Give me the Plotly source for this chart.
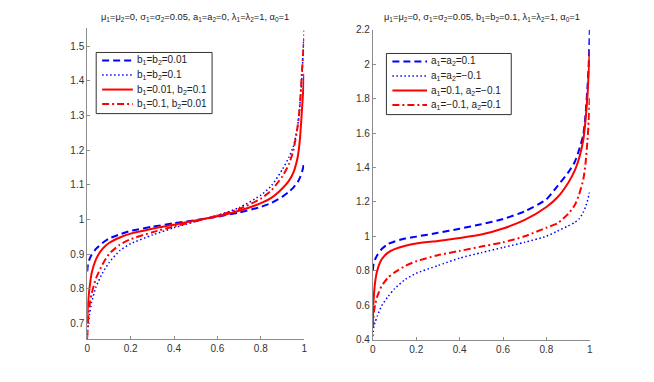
import plotly.graph_objects as go

# ── data ──────────────────────────────────────────────────────────────────────
X = [0, 0.002, 0.005, 0.01, 0.02, 0.04, 0.07, 0.1, 0.15, 0.2, 0.3, 0.4, 0.5,
     0.6, 0.7, 0.8, 0.85, 0.9, 0.93, 0.95, 0.97, 0.98, 0.99, 0.995, 0.998, 1]

# left panel (a1=a2=0, varying b)
L_b001 = [0.85, 0.865, 0.875, 0.885, 0.898, 0.915, 0.932, 0.945, 0.957, 0.967, 0.979, 0.989, 0.998,
          1.008, 1.02, 1.036, 1.048, 1.066, 1.08, 1.092, 1.108, 1.12, 1.138, 1.15, 1.16, 1.165]
L_b01 = [0.655, 0.68, 0.70, 0.725, 0.76, 0.805, 0.845, 0.875, 0.91, 0.93, 0.955, 0.976, 0.994,
         1.012, 1.034, 1.07, 1.098, 1.145, 1.18, 1.21, 1.27, 1.33, 1.42, 1.48, 1.52, 1.545]
L_b1_001_b2_01 = [0.70, 0.74, 0.77, 0.80, 0.845, 0.885, 0.915, 0.932, 0.948, 0.959, 0.973, 0.985, 0.997,
                  1.009, 1.025, 1.047, 1.063, 1.09, 1.112, 1.135, 1.18, 1.23, 1.32, 1.37, 1.40, 1.42]
L_b1_01_b2_001 = [0.66, 0.69, 0.72, 0.75, 0.785, 0.83, 0.87, 0.9, 0.927, 0.943, 0.963, 0.98, 0.995,
                  1.011, 1.03, 1.06, 1.085, 1.125, 1.16, 1.2, 1.27, 1.33, 1.43, 1.48, 1.51, 1.52]

# right panel (b1=b2=0.1, varying a)
R_a01 = [0.80, 0.83, 0.85, 0.865, 0.89, 0.925, 0.955, 0.97, 0.987, 0.998, 1.02, 1.044, 1.07,
         1.10, 1.145, 1.215, 1.29, 1.37, 1.43, 1.5, 1.59, 1.7, 1.88, 2.0, 2.12, 2.2]
R_am01 = [0.42, 0.45, 0.48, 0.5, 0.535, 0.595, 0.65, 0.695, 0.75, 0.785, 0.83, 0.873, 0.905,
          0.935, 0.965, 1.0, 1.03, 1.06, 1.08, 1.1, 1.14, 1.17, 1.21, 1.235, 1.25, 1.26]
R_a1_01_a2_m01 = [0.51, 0.6, 0.66, 0.73, 0.8, 0.865, 0.905, 0.925, 0.945, 0.958, 0.973, 0.99, 1.01,
                  1.045, 1.095, 1.17, 1.225, 1.31, 1.38, 1.45, 1.56, 1.67, 1.83, 1.95, 2.04, 2.08]
R_a1_m01_a2_01 = [0.47, 0.52, 0.56, 0.6, 0.65, 0.71, 0.76, 0.79, 0.828, 0.855, 0.89, 0.915, 0.94,
                  0.965, 1.0, 1.05, 1.075, 1.13, 1.18, 1.24, 1.33, 1.42, 1.57, 1.67, 1.76, 1.82]

LEFT_TITLE = ("μ<sub>1</sub>=μ<sub>2</sub>=0, σ<sub>1</sub>=σ<sub>2</sub>=0.05, "
              "a<sub>1</sub>=a<sub>2</sub>=0, λ<sub>1</sub>=λ<sub>2</sub>=1, α<sub>0</sub>=1")
RIGHT_TITLE = ("μ<sub>1</sub>=μ<sub>2</sub>=0, σ<sub>1</sub>=σ<sub>2</sub>=0.05, "
               "b<sub>1</sub>=b<sub>2</sub>=0.1, λ<sub>1</sub>=λ<sub>2</sub>=1, α<sub>0</sub>=1")

LEFT_NAMES = ["b<sub>1</sub>=b<sub>2</sub>=0.01", "b<sub>1</sub>=b<sub>2</sub>=0.1",
              "b<sub>1</sub>=0.01, b<sub>2</sub>=0.1", "b<sub>1</sub>=0.1, b<sub>2</sub>=0.01"]
RIGHT_NAMES = ["a<sub>1</sub>=a<sub>2</sub>=0.1", "a<sub>1</sub>=a<sub>2</sub>=−0.1",
               "a<sub>1</sub>=0.1, a<sub>2</sub>=−0.1", "a<sub>1</sub>=−0.1, a<sub>2</sub>=0.1"]

X_TICKS = [0, 0.2, 0.4, 0.6, 0.8, 1]
X_LABELS = ["0", "0.2", "0.4", "0.6", "0.8", "1"]
L_YTICKS = [0.7, 0.8, 0.9, 1.0, 1.1, 1.2, 1.3, 1.4, 1.5]
L_YLABELS = ["0.7", "0.8", "0.9", "1", "1.1", "1.2", "1.3", "1.4", "1.5"]
R_YTICKS = [0.4, 0.6, 0.8, 1.0, 1.2, 1.4, 1.6, 1.8, 2.0, 2.2]
R_YLABELS = ["0.4", "0.6", "0.8", "1", "1.2", "1.4", "1.6", "1.8", "2", "2.2"]

BLUE, RED = "#0000FF", "#FF0000"
STYLES = [  # colour, dash, width
    (BLUE, "7px,4px", 2),
    (BLUE, "1.5px,2.5px", 1.5),
    (RED, "solid", 2),
    (RED, "7px,3px,2px,3px", 2),
]

# the figure lands in the screenshot shifted / slightly squeezed; compensate
OFF = 8
W, H = 654 - 2 * OFF, 382 - 2 * OFF
Y0, YS = 13.6, 0.968
FONT = "Liberation Sans, Arial"


def fx(px):
    return (px - OFF) / W


def fy(py):
    return 1 - ((py - Y0) / YS) / H


fig = go.Figure()

for ys, (c, d, w), xa, ya in [(L_b001, STYLES[0], "x", "y"), (L_b01, STYLES[1], "x", "y"),
                              (L_b1_001_b2_01, STYLES[2], "x", "y"), (L_b1_01_b2_001, STYLES[3], "x", "y"),
                              (R_a01, STYLES[0], "x2", "y2"), (R_am01, STYLES[1], "x2", "y2"),
                              (R_a1_01_a2_m01, STYLES[2], "x2", "y2"), (R_a1_m01_a2_01, STYLES[3], "x2", "y2")]:
    fig.add_trace(go.Scatter(x=X, y=ys, mode="lines", showlegend=False, hoverinfo="skip",
                             line=dict(color=c, dash=d, width=w, shape="spline", smoothing=0.6),
                             xaxis=xa, yaxis=ya))

# hand-made MATLAB-style legends (boxed, tight rows)
shapes, annos = [], []


def legend(box, line_x, text_x, rows, names):
    x0, y0, x1, y1 = box
    shapes.append(dict(type="rect", xref="paper", yref="paper", x0=fx(x0), x1=fx(x1), y0=fy(y1), y1=fy(y0),
                       line=dict(color="#333", width=1), fillcolor="white", layer="above"))
    for name, ry, (c, d, w) in zip(names, rows, STYLES):
        shapes.append(dict(type="line", xref="paper", yref="paper", x0=fx(line_x[0]), x1=fx(line_x[1]),
                           y0=fy(ry), y1=fy(ry), line=dict(color=c, dash=d, width=w), layer="above"))
        annos.append(dict(text=name, x=fx(text_x), y=fy(ry), xref="paper", yref="paper", showarrow=False,
                          xanchor="left", yanchor="middle", font=dict(family=FONT, size=10, color="#222")))


legend((94, 52, 211, 113), (100, 131), 133, [60, 74.5, 89, 103.5], LEFT_NAMES)
legend((387, 53, 513, 114), (393, 428), 430, [61, 75.5, 90, 104.5], RIGHT_NAMES)

annos += [
    dict(text=LEFT_TITLE, x=fx(194), y=fy(17), xref="paper", yref="paper", showarrow=False,
         xanchor="center", yanchor="middle", font=dict(family=FONT, size=9.3, color="#222")),
    dict(text=RIGHT_TITLE, x=fx(483), y=fy(17), xref="paper", yref="paper", showarrow=False,
         xanchor="center", yanchor="middle", font=dict(family=FONT, size=9.3, color="#222")),
]

ax = dict(showgrid=False, zeroline=False, showline=True, linecolor="#8c8c8c", linewidth=1,
          ticks="inside", ticklen=3, tickcolor="#8c8c8c", mirror=False,
          tickfont=dict(family=FONT, size=10, color="#333"))

fig.update_layout(
    width=W, height=H, margin=dict(l=0, r=0, t=0, b=0),
    paper_bgcolor="white", plot_bgcolor="white",
    xaxis=dict(ax, domain=[fx(85), fx(304)], range=[0, 1], tickvals=X_TICKS, ticktext=X_LABELS, anchor="y"),
    yaxis=dict(ax, domain=[fy(338), fy(28)], range=[0.655, 1.551], tickvals=L_YTICKS, ticktext=L_YLABELS,
               anchor="x"),
    xaxis2=dict(ax, domain=[fx(373.3), fx(592.3)], range=[0, 1], tickvals=X_TICKS, ticktext=X_LABELS,
                anchor="y2"),
    yaxis2=dict(ax, domain=[fy(338.5), fy(29.3)], range=[0.4, 2.2], tickvals=R_YTICKS, ticktext=R_YLABELS,
                anchor="x2"),
    shapes=shapes,
    annotations=annos,
)

fig.write_html("out.html")
